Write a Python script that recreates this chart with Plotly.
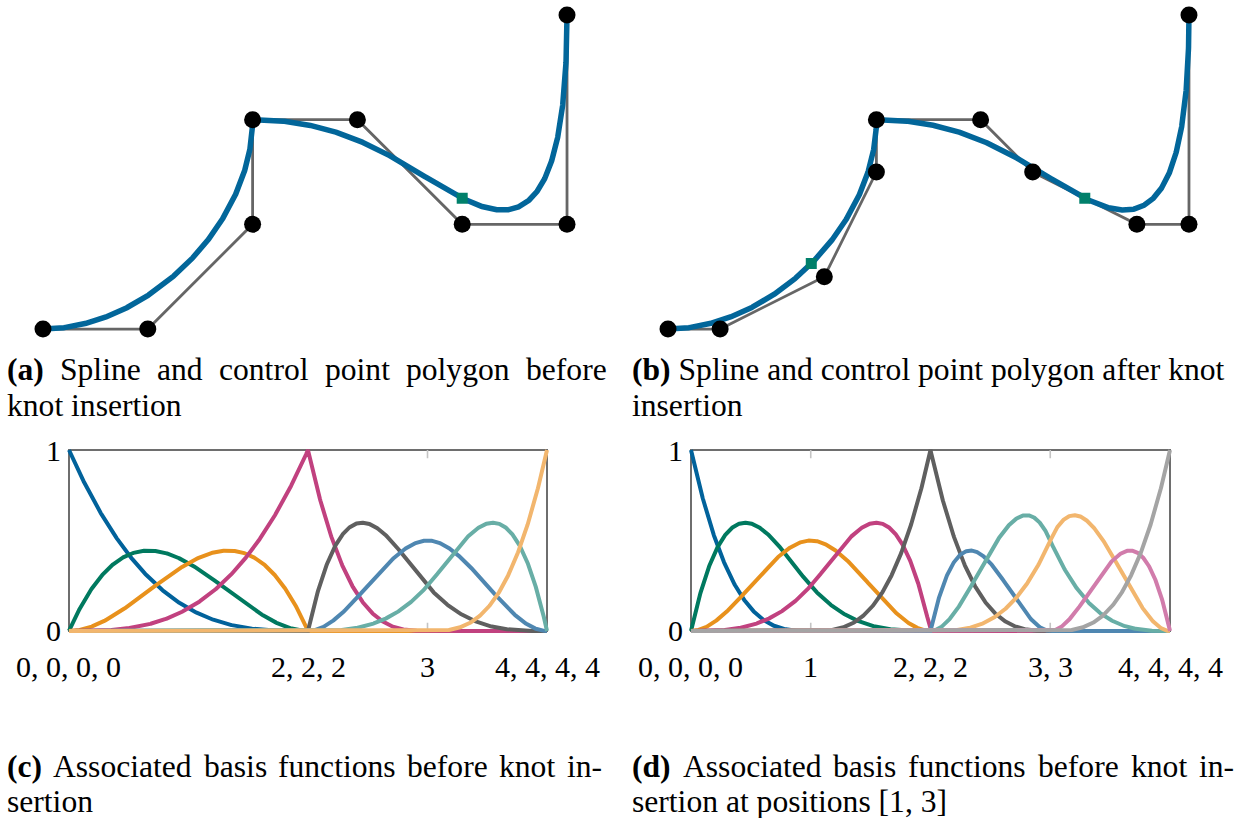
import numpy as np
import plotly.graph_objects as go

W, H = 1235, 818

# ---------------- data ----------------
degree = 3
knots_before = [0, 0, 0, 0, 2, 2, 2, 3, 4, 4, 4, 4]
knots_after = [0, 0, 0, 0, 1, 2, 2, 2, 3, 3, 4, 4, 4, 4]

ctrl_x_before = [0, 1, 2, 2, 3, 4, 5, 5]
ctrl_y_before = [0, 0, 1, 2, 2, 1, 1, 3]
ctrl_x_after = [0, 0.5, 1.5, 2, 2, 3, 3.5, 4.5, 5, 5]
ctrl_y_after = [0, 0, 0.5, 1.5, 2, 2, 1.5, 1, 1, 3]

marks_before = [3]
marks_after = [1, 3]

tick_vals_before = [0, 2, 3, 4]
tick_text_before = ["0, 0, 0, 0", "2, 2, 2", "3", "4, 4, 4, 4"]
tick_vals_after = [0, 1, 2, 3, 4]
tick_text_after = ["0, 0, 0, 0", "1", "2, 2, 2", "3, 3", "4, 4, 4, 4"]
minor_ticks_before = [3]
minor_ticks_after = [1, 3]

colors_before = ["#01629b", "#00795f", "#e8911c", "#c1417f",
                 "#5f5f5f", "#4f87b1", "#68aea6", "#f2b66e"]
colors_after = ["#01629b", "#00795f", "#e8911c", "#c1417f", "#5f5f5f",
                "#4f87b1", "#68aea6", "#f2b66e", "#d17cab", "#a4a4a4"]

captions = {
    "a": ["(a)", "Spline and control point polygon before", "knot insertion"],
    "b": ["(b)", "Spline and control point polygon after knot", "insertion"],
    "c": ["(c)", "Associated basis functions before knot in-", "sertion"],
    "d": ["(d)", "Associated basis functions before knot in-", "sertion at positions [1, 3]"],
}

CURVE = "#02669a"
POLY = "#666666"
MARK = "#00806b"
FONT = "Liberation Serif"


# ---------------- B-spline basis (Cox-de Boor) ----------------
def basis(knots, p, u):
    t = np.asarray(knots, float)
    u = np.asarray(u, float)
    n = len(t) - 1
    N = np.zeros((n, u.size))
    for i in range(n):
        if t[i] < t[i + 1]:
            N[i] = ((u >= t[i]) & (u < t[i + 1])).astype(float)
    last = max(i for i in range(n) if t[i] < t[i + 1])
    N[last, u >= t[-1]] = 1.0
    for k in range(1, p + 1):
        Nk = np.zeros((n - k, u.size))
        for i in range(n - k):
            d1 = t[i + k] - t[i]
            d2 = t[i + k + 1] - t[i + 1]
            a = (u - t[i]) / d1 * N[i] if d1 > 0 else 0.0
            b = (t[i + k + 1] - u) / d2 * N[i + 1] if d2 > 0 else 0.0
            Nk[i] = a + b
        N = Nk
    return N


def curve(knots, cx, cy, u):
    N = basis(knots, degree, u)
    return N.T @ np.asarray(cx, float), N.T @ np.asarray(cy, float)


u = np.linspace(knots_before[0], knots_before[-1], 1201)

fx = lambda px: px / W
fy = lambda py: 1 - py / H

fig = go.Figure()

# ---------------- top panels ----------------
for idx, (kn, cx, cy, mk) in enumerate([
        (knots_before, ctrl_x_before, ctrl_y_before, marks_before),
        (knots_after, ctrl_x_after, ctrl_y_after, marks_after)]):
    ax = "" if idx == 0 else "2"
    sx, sy = curve(kn, cx, cy, u)
    fig.add_trace(go.Scatter(x=cx, y=cy, mode="lines",
                             line=dict(color=POLY, width=2.8),
                             xaxis="x" + ax, yaxis="y" + ax, hoverinfo="skip"))
    fig.add_trace(go.Scatter(x=sx, y=sy, mode="lines",
                             line=dict(color=CURVE, width=5.5),
                             xaxis="x" + ax, yaxis="y" + ax))
    mx, my = curve(kn, cx, cy, np.asarray(mk, float))
    fig.add_trace(go.Scatter(x=mx, y=my, mode="markers",
                             marker=dict(symbol="square", size=11, color=MARK),
                             xaxis="x" + ax, yaxis="y" + ax))
    fig.add_trace(go.Scatter(x=cx, y=cy, mode="markers",
                             marker=dict(symbol="circle", size=17, color="black"),
                             xaxis="x" + ax, yaxis="y" + ax))

# ---------------- bottom panels ----------------
for idx, (kn, cols) in enumerate([(knots_before, colors_before),
                                  (knots_after, colors_after)]):
    ax = str(idx + 3)
    N = basis(kn, degree, u)
    for i in range(N.shape[0]):
        fig.add_trace(go.Scatter(x=u, y=N[i], mode="lines",
                                 line=dict(color=cols[i], width=4),
                                 xaxis="x" + ax, yaxis="y" + ax))

hidden = dict(showgrid=False, zeroline=False, showticklabels=False,
              showline=False, ticks="")

layout = dict(
    width=W, height=H, showlegend=False,
    margin=dict(l=0, r=0, t=0, b=0),
    paper_bgcolor="white", plot_bgcolor="rgba(0,0,0,0)",
    xaxis=dict(domain=[fx(32.5), fx(577.5)], range=[-0.1, 5.1], anchor="y", **hidden),
    yaxis=dict(domain=[fy(339.5), fy(4.5)], range=[-0.1, 3.1], anchor="x", **hidden),
    xaxis2=dict(domain=[fx(657.6), fx(1199.4)], range=[-0.1, 5.1], anchor="y2", **hidden),
    yaxis2=dict(domain=[fy(339.5), fy(4.5)], range=[-0.1, 3.1], anchor="x2", **hidden),
    xaxis3=dict(domain=[fx(65.4), fx(550.6)], range=[-0.03, 4.03], anchor="y3", **hidden),
    yaxis3=dict(domain=[fy(634.6), fy(446.4)], range=[-0.02, 1.02], anchor="x3", **hidden),
    xaxis4=dict(domain=[fx(687.4), fx(1173.6)], range=[-0.03, 4.03], anchor="y4", **hidden),
    yaxis4=dict(domain=[fy(634.6), fy(446.4)], range=[-0.02, 1.02], anchor="x4", **hidden),
)

shapes = []
annotations = []
tick_font = dict(family=FONT, size=30, color="black")
for ax, vals, texts, minors in [("3", tick_vals_before, tick_text_before, minor_ticks_before),
                                ("4", tick_vals_after, tick_text_after, minor_ticks_after)]:
    shapes.append(dict(type="rect", xref="x" + ax, yref="y" + ax, x0=0, x1=4, y0=0, y1=1,
                       line=dict(color="#6e6e6e", width=2), layer="below"))
    for m in minors:
        for y0, y1 in [(0, 0.045), (0.955, 1)]:
            shapes.append(dict(type="line", xref="x" + ax, yref="y" + ax, x0=m, x1=m,
                               y0=y0, y1=y1, line=dict(color="#c4c4c4", width=1.6),
                               layer="below"))
    for v, t in zip(vals, texts):
        annotations.append(dict(xref="x" + ax, yref="paper", x=v, y=fy(666), text=t,
                                showarrow=False, xanchor="center", yanchor="middle",
                                font=tick_font))
    xr = fx(63) if ax == "3" else fx(685)
    for yv, t in [(1, "1"), (0, "0")]:
        annotations.append(dict(xref="paper", yref="y" + ax, x=xr, y=yv, text=t,
                                showarrow=False, xanchor="right", yanchor="middle",
                                font=tick_font))

# ---------------- captions (justified first lines) ----------------
CAP = 31.6
# Times / Liberation Serif advance widths (em/1000)
REG = {" ": 250, "(": 333, ")": 333, "[": 333, "]": 333, ",": 250, "-": 333,
       "1": 500, "3": 500, "A": 722, "S": 556, "a": 444, "b": 500, "c": 444,
       "d": 500, "e": 444, "f": 333, "g": 500, "h": 500, "i": 278, "k": 500,
       "l": 278, "n": 500, "o": 500, "p": 500, "r": 333, "s": 389, "t": 278,
       "u": 500, "y": 500}
BOLD = {"(": 333, ")": 333, "a": 500, "b": 556, "c": 444, "d": 556}
cap_font = dict(family=FONT, size=CAP, color="black")


def width(word, bold=False):
    tab = BOLD if bold else REG
    return sum(tab.get(ch, 500) for ch in word) / 1000 * CAP


def add_text(px, py, txt):
    annotations.append(dict(xref="paper", yref="paper", x=fx(px), y=fy(py), text=txt,
                            showarrow=False, xanchor="left", yanchor="middle",
                            font=cap_font))


def caption(key, x0, x1, y1, y2, justify):
    lab, line1, line2 = captions[key]
    ws = line1.split(" ")
    if justify:
        widths = [width(lab, True)] + [width(w) for w in ws]
        gap = (x1 - x0 - sum(widths)) / (len(widths) - 1)
        x = x0
        add_text(x, y1, "<b>" + lab + "</b>")
        x += widths[0] + gap
        for w, wd in zip(ws, widths[1:]):
            add_text(x, y1, w)
            x += wd + gap
    else:
        add_text(x0, y1, "<b>" + lab + "</b> " + line1)
    add_text(x0, y2, line2)


caption("a", 5, 605, 370, 405, True)
caption("b", 630, 1227, 370, 405, False)
caption("c", 5, 600, 766, 801, True)
caption("d", 630, 1232, 766, 801, True)

layout["shapes"] = shapes
layout["annotations"] = annotations
fig.update_layout(**layout)
fig.write_html("out.html", config={"displayModeBar": False},
               post_script="document.body.style.margin='0';")
